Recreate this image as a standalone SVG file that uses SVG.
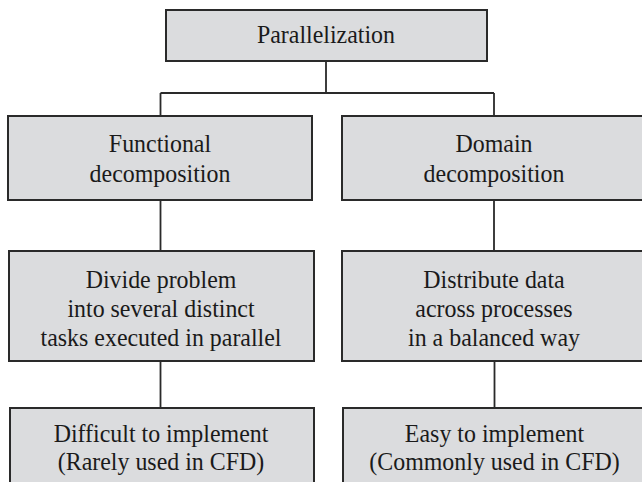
<svg xmlns="http://www.w3.org/2000/svg" width="642" height="482" viewBox="0 0 642 482">
<style>
.box{fill:#dbdcde;stroke:#2a2a2a;stroke-width:2}
.t{font-family:"Liberation Serif","Times New Roman",serif;font-size:26px;fill:#1a1a1a;text-anchor:middle}
.c{fill:none;stroke:#2a2a2a;stroke-width:1.8}
</style>
<rect width="642" height="482" fill="#ffffff"/>
<g id="connectors">
<path class="c" d="M326 61V93M160.5 93H494M160.5 93V116M494 93V116M160.5 200V251M494 200V251M160.5 361V408M494.5 361V408"/>
</g>
<g id="parallelization">
<rect class="box" x="166" y="10" width="321" height="51"/>
<text class="t" transform="translate(326 42.7) scale(0.92 1)">Parallelization</text>
</g>
<g id="functional">
<rect class="box" x="8" y="116" width="304" height="84"/>
<text class="t" transform="translate(160 152.3) scale(0.92 1)">Functional</text>
<text class="t" transform="translate(160 181.7) scale(0.92 1)">decomposition</text>
</g>
<g id="domain">
<rect class="box" x="342" y="116" width="310" height="84"/>
<text class="t" transform="translate(494 152.3) scale(0.92 1)">Domain</text>
<text class="t" transform="translate(494 181.7) scale(0.92 1)">decomposition</text>
</g>
<g id="divide">
<rect class="box" x="9" y="251" width="305" height="110"/>
<text class="t" transform="translate(161 287.5) scale(0.92 1)">Divide problem</text>
<text class="t" transform="translate(161 317) scale(0.92 1)">into several distinct</text>
<text class="t" transform="translate(161 345.7) scale(0.92 1)">tasks executed in parallel</text>
</g>
<g id="distribute">
<rect class="box" x="342" y="251" width="310" height="110"/>
<text class="t" transform="translate(494 287.5) scale(0.92 1)">Distribute data</text>
<text class="t" transform="translate(494 317) scale(0.92 1)">across processes</text>
<text class="t" transform="translate(494 345.7) scale(0.92 1)">in a balanced way</text>
</g>
<g id="difficult">
<rect class="box" x="10" y="408" width="304" height="90"/>
<text class="t" transform="translate(161 441.7) scale(0.92 1)">Difficult to implement</text>
<text class="t" transform="translate(161 470) scale(0.92 1)">(Rarely used in CFD)</text>
</g>
<g id="easy">
<rect class="box" x="343" y="408" width="310" height="90"/>
<text class="t" transform="translate(494.5 441.7) scale(0.92 1)">Easy to implement</text>
<text class="t" transform="translate(494.5 470) scale(0.92 1)">(Commonly used in CFD)</text>
</g>
</svg>
